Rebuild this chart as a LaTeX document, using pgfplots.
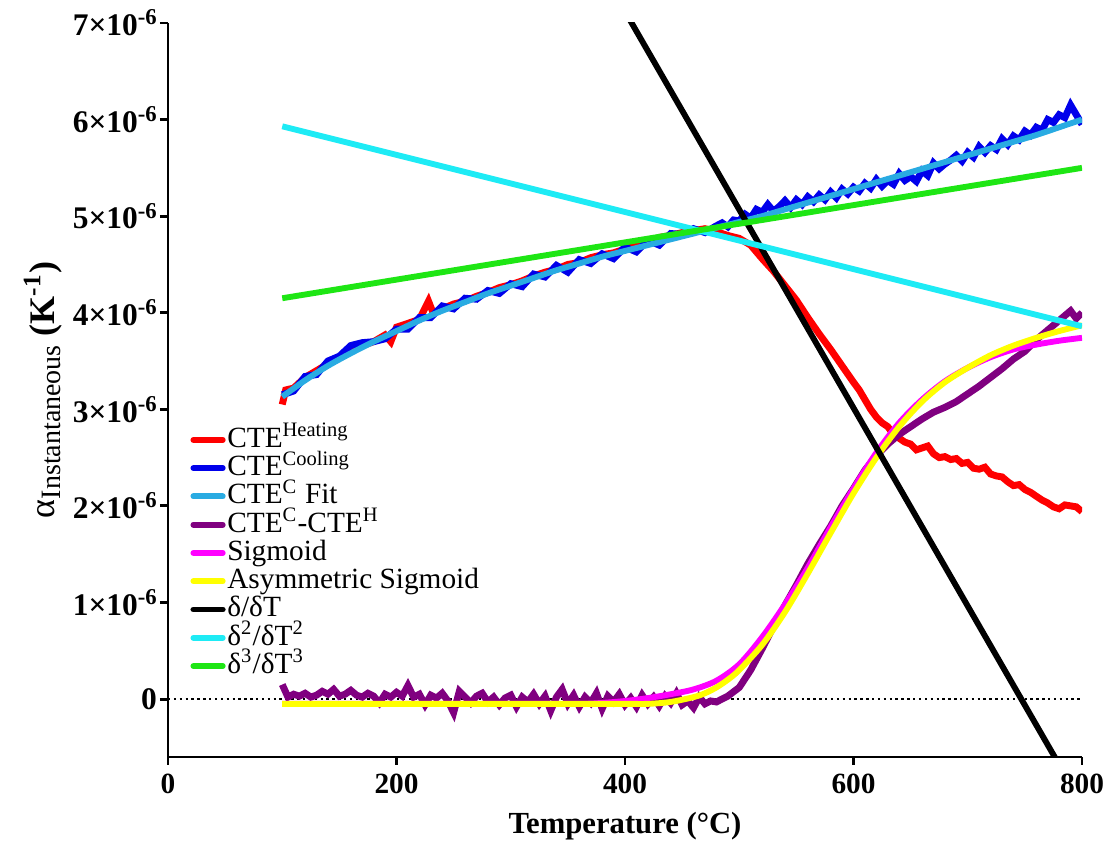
\documentclass[border=0pt]{standalone}
\usepackage{fontspec}
\setmainfont{Liberation Serif}
\usepackage{pgfplots}
\pgfplotsset{compat=1.18}

\definecolor{cheat}{RGB}{255,0,0}
\definecolor{ccool}{RGB}{0,0,235}
\definecolor{cfit}{RGB}{41,171,226}
\definecolor{cdiff}{RGB}{128,0,128}
\definecolor{csig}{RGB}{255,0,255}
\definecolor{casym}{RGB}{255,255,0}
\definecolor{cd2}{RGB}{30,235,245}
\definecolor{cd3}{RGB}{30,230,20}

\newcommand{\tl}[1]{\textbf{#1×10\raisebox{0.75ex}{\fontsize{8.5}{8}\selectfont -6}}}

\begin{document}
\begin{tikzpicture}
\begin{axis}[
    name=ax,
    scale only axis,
    width=342.75pt, height=275.25pt,
    xmin=0, xmax=800, ymin=-0.6, ymax=7,
    axis x line*=bottom, axis y line*=left,
    axis line style={line width=1.1pt},
    tick align=outside, major tick length=3pt,
    tick style={line width=1.1pt, black},
    xtick={0,200,400,600,800},
    xticklabels={\textbf{0},\textbf{200},\textbf{400},\textbf{600},\textbf{800}},
    ytick={0,1,2,3,4,5,6,7},
    yticklabels={\textbf{0},\tl{1},\tl{2},\tl{3},\tl{4},\tl{5},\tl{6},\tl{7}},
    tick label style={font=\fontsize{11}{11}\selectfont},
    yticklabel style={inner sep=1pt, font=\fontsize{11.8}{12}\selectfont},
    xlabel={\textbf{Temperature (°C)}},
    xlabel style={at={(axis description cs:0.5,0)}, anchor=center, yshift=-26pt,
        font=\fontsize{11.5}{12}\selectfont},
    ylabel={α\raisebox{-0.35ex}{\fontsize{10.5}{10}\selectfont Instantaneous} \textbf{(K\textsuperscript{-1})}},
    ylabel style={at={(axis description cs:-0.137,0.5)}, anchor=center,
        font=\fontsize{13.5}{13}\selectfont},
    legend cell align=left,
    legend style={at={(0.024,0.452)}, anchor=north west, draw=none, fill=none,
        inner sep=0pt, font=\fontsize{11}{11}\selectfont,
        nodes={inner sep=0.6pt, text height=7.5pt, text depth=1.9pt}},
    legend image code/.code={\draw[#1, line width=2.2pt, line cap=round] (0pt,0pt) -- (11pt,0pt);},
    every axis plot/.append style={line width=2.2pt, mark=none},
]
\addplot [black, line width=0.7pt, dash pattern=on 0.9pt off 1.3pt, forget plot] coordinates {(0,0) (800,0)};

% CTE heating
\addplot [cheat, line width=2.6pt] coordinates {
(100,3.05) (103,3.20) (110,3.22) (120,3.33) (130,3.40) (140,3.47) (150,3.53)
(160,3.60) (170,3.66) (180,3.70) (190,3.77) (195,3.70) (200,3.85) (210,3.89)
(220,3.93) (228,4.12) (232,4.00) (240,4.04) (250,4.09) (260,4.12) (270,4.17)
(280,4.21) (290,4.26) (300,4.29) (310,4.33) (320,4.38) (330,4.42) (340,4.45)
(350,4.50) (360,4.52) (370,4.57) (380,4.60) (390,4.62) (400,4.66) (410,4.70)
(420,4.73) (430,4.78) (440,4.80) (450,4.83) (460,4.85) (470,4.87) (480,4.84)
(490,4.80) (500,4.77) (510,4.70) (520,4.56) (530,4.43) (540,4.28) (550,4.13)
(560,3.95) (570,3.78) (580,3.62) (590,3.45) (600,3.28) (605,3.20) (610,3.10)
(615,3.00) (620,2.92) (625,2.86) (630,2.82) (635,2.74) (640,2.70) (645,2.66)
(650,2.64) (655,2.58) (660,2.60) (665,2.62) (670,2.54) (675,2.50) (680,2.51)
(685,2.48) (690,2.49) (695,2.44) (700,2.45) (705,2.39) (710,2.38) (715,2.40)
(720,2.33) (725,2.31) (730,2.30) (735,2.25) (740,2.21) (745,2.22) (750,2.17)
(755,2.14) (760,2.10) (765,2.06) (770,2.03) (775,1.99) (780,1.97) (785,2.01)
(790,2.00) (795,1.99) (800,1.94)};
\addlegendentry{CTE\textsuperscript{Heating}}

% CTE cooling
\addplot [ccool, line width=2.6pt] coordinates {
(100,3.15) (110,3.19) (120,3.34) (130,3.36) (140,3.50) (150,3.55) (160,3.66)
(170,3.69) (180,3.70) (190,3.73) (200,3.83) (210,3.83) (220,3.95) (230,3.95)
(240,4.07) (250,4.04) (260,4.15) (270,4.14) (280,4.23) (290,4.20) (300,4.30)
(310,4.27) (320,4.40) (330,4.37) (340,4.49) (350,4.42) (360,4.55) (370,4.51)
(380,4.61) (390,4.56) (400,4.68) (410,4.63) (420,4.75) (430,4.70) (440,4.82)
(450,4.81) (460,4.87) (470,4.83) (480,4.90) (485,4.93) (490,4.89) (495,4.96)
(500,4.95) (505,5.02) (510,4.98) (515,5.07) (520,5.04) (525,5.12) (530,5.05)
(535,5.10) (540,5.16) (545,5.09) (550,5.17) (555,5.12) (560,5.20) (565,5.15)
(570,5.22) (575,5.17) (580,5.25) (585,5.19) (590,5.28) (595,5.23) (600,5.30)
(605,5.26) (610,5.34) (615,5.29) (620,5.38) (625,5.31) (630,5.37) (635,5.33)
(640,5.44) (645,5.37) (650,5.41) (655,5.36) (660,5.47) (665,5.42) (670,5.55)
(675,5.49) (680,5.54) (685,5.58) (690,5.63) (695,5.57) (700,5.66) (705,5.61)
(710,5.72) (715,5.66) (720,5.73) (725,5.69) (730,5.80) (735,5.74) (740,5.83)
(745,5.79) (750,5.88) (755,5.84) (760,5.92) (765,5.89) (770,6.00) (775,5.97)
(780,6.05) (785,6.02) (790,6.15) (795,6.05) (800,5.95)};
\addlegendentry{CTE\textsuperscript{Cooling}}

% fit of cooling
\addplot [cfit, smooth] coordinates {
(100,3.13) (120,3.30) (140,3.45) (160,3.58) (180,3.70) (200,3.81) (220,3.92)
(240,4.02) (260,4.11) (280,4.20) (300,4.28) (320,4.36) (340,4.44) (360,4.51)
(380,4.58) (400,4.64) (420,4.70) (440,4.76) (460,4.82) (480,4.88) (500,4.94)
(520,5.00) (540,5.07) (560,5.14) (580,5.21) (600,5.28) (620,5.35) (640,5.42)
(660,5.49) (680,5.56) (700,5.63) (720,5.70) (740,5.77) (760,5.84) (780,5.92)
(800,6.00)};
\addlegendentry{CTE\textsuperscript{C} Fit}

% difference
\addplot [cdiff, line width=2.6pt] coordinates {
(100,0.15) (105,0.02) (110,0.05) (115,0.03) (120,0.06) (125,0.02) (130,0.04)
(135,0.08) (140,0.05) (145,0.10) (150,0.03) (155,0.05) (160,0.09) (165,0.04)
(170,0.02) (175,0.06) (180,0.03) (185,-0.04) (190,0.05) (195,0.02) (200,0.07)
(205,0.03) (210,0.14) (215,0.02) (220,0.05) (225,-0.06) (230,0.04) (235,0.01)
(240,0.06) (245,-0.02) (250,-0.14) (255,0.08) (260,0.02) (265,-0.04) (270,0.03)
(275,0.06) (280,-0.03) (285,0.02) (290,-0.06) (295,0.01) (300,0.04) (305,-0.08)
(310,0.02) (315,-0.03) (320,0.05) (325,-0.05) (330,0.03) (335,-0.12) (340,0.02)
(345,0.10) (350,-0.05) (355,0.04) (360,-0.08) (365,0.02) (370,-0.04) (375,0.06)
(380,-0.10) (385,0.03) (390,-0.03) (395,0.05) (400,-0.06) (405,0.01) (410,-0.08)
(415,0.04) (420,-0.05) (425,0.02) (430,-0.07) (435,0.03) (440,-0.04) (445,0.06)
(450,-0.06) (455,-0.02) (460,-0.09) (465,0.02) (470,-0.05) (475,-0.02) (480,-0.03)
(490,0.03) (500,0.12) (510,0.30) (520,0.52) (530,0.75) (540,0.97) (550,1.18)
(560,1.40) (570,1.60) (580,1.79) (590,2.00) (600,2.18) (610,2.37) (620,2.52)
(630,2.64) (640,2.74) (650,2.82) (660,2.90) (670,2.97) (680,3.02) (690,3.08)
(700,3.16) (710,3.24) (720,3.33) (730,3.42) (740,3.52) (750,3.60) (760,3.72)
(770,3.82) (780,3.92) (790,4.02) (795,3.94) (800,4.00)};
\addlegendentry{CTE\textsuperscript{C}-CTE\textsuperscript{H}}

% sigmoid
\addplot [csig, smooth] coordinates {
(100,-0.05) (200,-0.05) (300,-0.05) (360,-0.05) (380,-0.04) (400,-0.02)
(420,0.01) (440,0.05) (460,0.10) (480,0.19) (500,0.36) (520,0.64) (540,0.98)
(560,1.36) (580,1.78) (600,2.18) (620,2.55) (640,2.86) (660,3.10) (680,3.29)
(700,3.43) (720,3.54) (740,3.62) (760,3.67) (780,3.71) (800,3.74)};
\addlegendentry{Sigmoid}

% asymmetric sigmoid
\addplot [casym, smooth] coordinates {
(100,-0.05) (200,-0.05) (300,-0.05) (400,-0.05) (420,-0.05) (440,-0.03)
(460,0.02) (470,0.06) (480,0.12) (490,0.20) (500,0.30) (520,0.56) (540,0.90)
(560,1.30) (580,1.72) (600,2.13) (620,2.50) (640,2.82) (660,3.08) (680,3.28)
(700,3.43) (720,3.56) (740,3.66) (760,3.74) (780,3.81) (800,3.87)};
\addlegendentry{Asymmetric Sigmoid}

\addplot [black] coordinates {(400,7.12) (780,-0.68)};
\addlegendentry{δ/δT}

\addplot [cd2] coordinates {(100,5.93) (800,3.86)};
\addlegendentry{δ\textsuperscript{2}/δT\textsuperscript{2}}

\addplot [cd3] coordinates {(100,4.15) (800,5.50)};
\addlegendentry{δ\textsuperscript{3}/δT\textsuperscript{3}}
\end{axis}
\pgfresetboundingbox
\path ([xshift=-63pt,yshift=-32.25pt]ax.south west) rectangle ([xshift=9pt,yshift=8.625pt]ax.north east);
\end{tikzpicture}
\end{document}
